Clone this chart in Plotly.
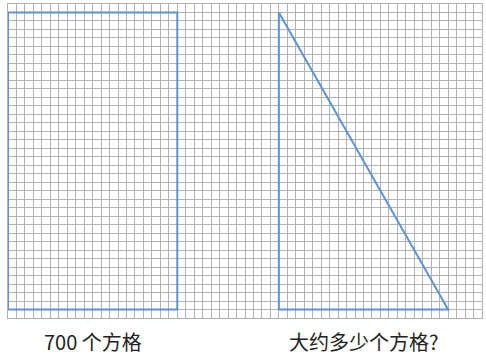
import plotly.graph_objects as go

# grid size in squares
grid_cols = 56
grid_rows = 37

# rectangle (700 squares = 20 x 35) and triangle outline, in grid units
rect_x = [0, 20, 20, 0, 0]
rect_y = [1, 1, 36, 36, 1]
tri_x = [32, 32, 52, 32]
tri_y = [36, 1, 1, 36]

labels = ["700 个方格", "大约多少个方格?"]
label_x = [10, 42]

blue = "#5f93d8"
grid_color = "#b2b2b2"

fig = go.Figure()

fig.add_trace(go.Scatter(x=rect_x, y=rect_y, mode="lines",
                         line=dict(color=blue, width=2), hoverinfo="skip"))
fig.add_trace(go.Scatter(x=tri_x, y=tri_y, mode="lines",
                         line=dict(color=blue, width=2), hoverinfo="skip"))

for txt, xpos in zip(labels, label_x):
    fig.add_annotation(x=xpos, xref="x", y=0, yref="paper", yshift=-23,
                       text=txt, showarrow=False, yanchor="middle",
                       font=dict(family="Noto Sans CJK SC", size=20, color="#222222"))

axis_common = dict(showgrid=True, gridcolor=grid_color, gridwidth=1, dtick=1,
                   zeroline=False, showticklabels=False, ticks="",
                   showline=True, linecolor=grid_color, linewidth=1, mirror=True,
                   fixedrange=True)

fig.update_xaxes(range=[0, grid_cols], tick0=0, **axis_common)
fig.update_yaxes(range=[0, grid_rows], tick0=0, **axis_common)

fig.update_layout(
    width=486, height=356,
    margin=dict(l=8, r=4, t=4, b=38),
    paper_bgcolor="white", plot_bgcolor="white",
    showlegend=False,
)

# drop the browser's default body margin so the figure sits at the page corner
fig.write_html("out.html", config={"displayModeBar": False},
               post_script="document.body.style.margin='0';")
